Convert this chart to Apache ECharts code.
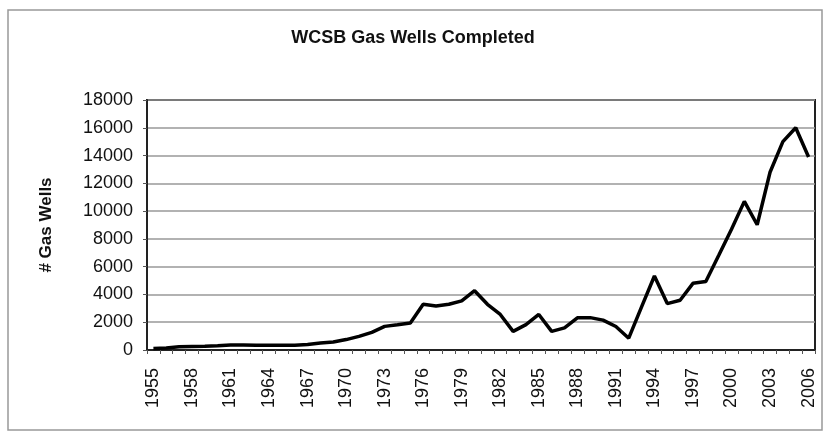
<!DOCTYPE html>
<html>
<head>
<meta charset="utf-8">
<script src="https://cdn.jsdelivr.net/npm/echarts@6/dist/echarts.min.js"></script>
<style>
  html, body { margin: 0; padding: 0; background: #fff; }
  #chart { width: 826px; height: 432px; }
</style>
</head>
<body>
<div id="chart"></div>
<script>
// years 1955 - 2006
const years = []
for (let y = 1955; y <= 2006; y++) years.push(String(y))

// gas wells completed
const wells = [
  100, 140, 230, 250, 270, 300, 360, 360, 340, 340,
  340, 350, 390, 500, 570, 750, 980, 1270, 1700, 1820,
  1950, 3300, 3170, 3290, 3540, 4270, 3290, 2560, 1340, 1830,
  2560, 1340, 1590, 2320, 2330, 2150, 1690, 850, 3100, 5330,
  3340, 3580, 4800, 4930, 6800, 8700, 10700, 9020, 12800, 15000,
  16000, 13900
]

const yTicks = { min: 0, max: 18000, step: 2000 }

const chart = echarts.init(document.getElementById('chart'))

const options = {
  animation: false,
  backgroundColor: '#fff',
  textStyle: { fontFamily: 'Liberation Sans, Arial, sans-serif' },
  title: {
    text: 'WCSB Gas Wells Completed',
    left: 'center',
    top: 24,
    textStyle: { fontSize: 18, fontWeight: 'bold', color: '#111' },
  },
  graphic: [
    {
      type: 'rect',
      shape: { x: 8, y: 10, width: 814, height: 420 },
      style: { fill: 'none', stroke: '#999', lineWidth: 1.5 },
      silent: true,
    },
  ],
  grid: {
    left: 147,
    right: 11,
    top: 100,
    bottom: 82,
    show: true,
    borderColor: '#222',
    borderWidth: 2,
  },
  xAxis: {
    type: 'category',
    data: years,
    boundaryGap: true,
    axisLine: { lineStyle: { color: '#222', width: 2 } },
    axisTick: { show: true, interval: 0, length: 4, lineStyle: { color: '#555' } },
    axisLabel: {
      interval: 2,
      rotate: 90,
      margin: 18,
      fontSize: 18,
      color: '#111',
    },
  },
  yAxis: {
    type: 'value',
    min: yTicks.min,
    max: yTicks.max,
    interval: yTicks.step,
    name: '# Gas Wells',
    nameLocation: 'middle',
    nameGap: 92,
    nameTextStyle: { fontSize: 17, fontWeight: 'bold', color: '#111' },
    axisLine: { show: true, lineStyle: { color: '#222', width: 2 } },
    axisTick: { show: true, length: 4, lineStyle: { color: '#555' } },
    axisLabel: { fontSize: 18, margin: 14, color: '#111', formatter: (v) => String(v) },
    splitLine: { lineStyle: { color: '#999', width: 1.5 } },
  },
  series: [
    {
      name: 'Gas Wells',
      type: 'line',
      data: wells,
      symbol: 'none',
      lineStyle: { color: '#000', width: 3.5 },
    },
  ],
}

chart.setOption(options)
</script>
</body>
</html>
